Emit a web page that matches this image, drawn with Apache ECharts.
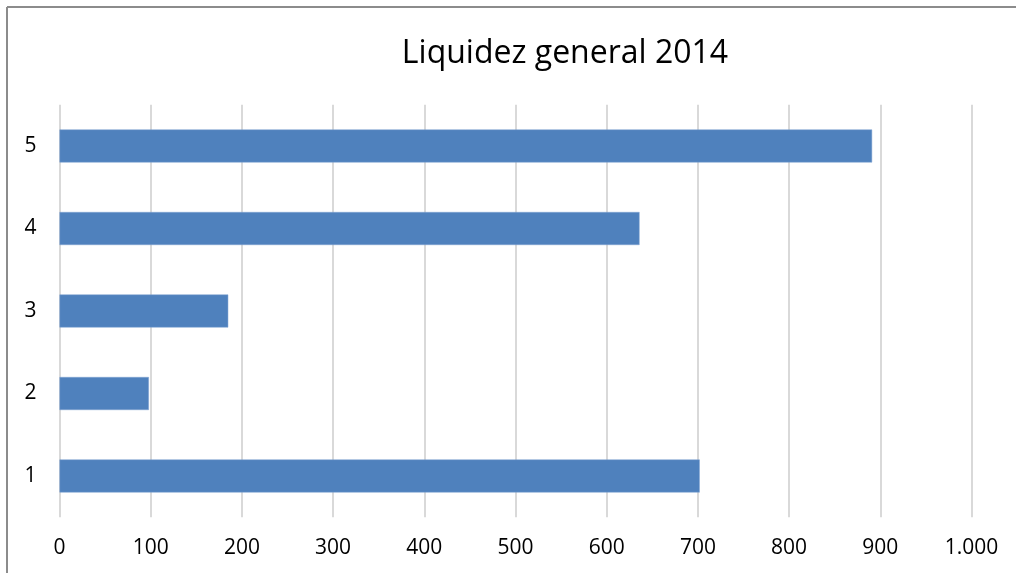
<!DOCTYPE html>
<html>
<head>
<meta charset="utf-8">
<script src="https://cdn.jsdelivr.net/npm/echarts@6/dist/echarts.min.js"></script>
<style>
html,body{margin:0;padding:0;background:#fff;}
#chart{width:1016px;height:573px;}
</style>
</head>
<body>
<div id="chart"></div>
<script>
const titleText = "Liquidez general 2014";
const categories = ["1", "2", "3", "4", "5"];
const values = [702, 98, 185, 636, 891];
const xTicks = [0, 100, 200, 300, 400, 500, 600, 700, 800, 900, 1000];

const chart = echarts.init(document.getElementById('chart'));
const fmt = v => String(v).replace(/\B(?=(\d{3})+(?!\d))/g, '.');
chart.setOption({
  animation: false,
  backgroundColor: '#ffffff',
  title: {
    text: titleText,
    left: 560,
    top: 33,
    textAlign: 'center',
    textStyle: { fontFamily: 'Open Sans', fontSize: 32, fontWeight: 'normal', color: '#000' }
  },
  graphic: [
    { type: 'line', shape: { x1: 7, y1: 7, x2: 1016, y2: 7 }, style: { stroke: '#8c8c8c', lineWidth: 2 } },
    { type: 'line', shape: { x1: 7, y1: 7, x2: 7, y2: 573 }, style: { stroke: '#8c8c8c', lineWidth: 2 } }
  ],
  grid: { left: 59.5, right: 44.5, top: 104.75, bottom: 55.75, containLabel: false },
  xAxis: {
    type: 'value',
    min: xTicks[0],
    max: xTicks[xTicks.length - 1],
    interval: 100,
    axisLine: { show: false },
    axisTick: { show: false },
    axisLabel: { formatter: v => fmt(v), fontFamily: 'Open Sans', fontSize: 21, color: '#000', margin: 20 },
    splitLine: { show: true, lineStyle: { color: '#d9d9d9', width: 2 } }
  },
  yAxis: {
    type: 'category',
    data: categories,
    axisLine: { show: false },
    axisTick: { show: false },
    axisLabel: { fontFamily: 'Open Sans', fontSize: 21, color: '#000', margin: 23 },
    splitLine: { show: false }
  },
  series: [{
    type: 'bar',
    data: values,
    barCategoryGap: '60%',
    itemStyle: { color: '#4f81bd', borderColor: '#7fa3d3', borderWidth: 0.5 }
  }]
});
</script>
</body>
</html>
